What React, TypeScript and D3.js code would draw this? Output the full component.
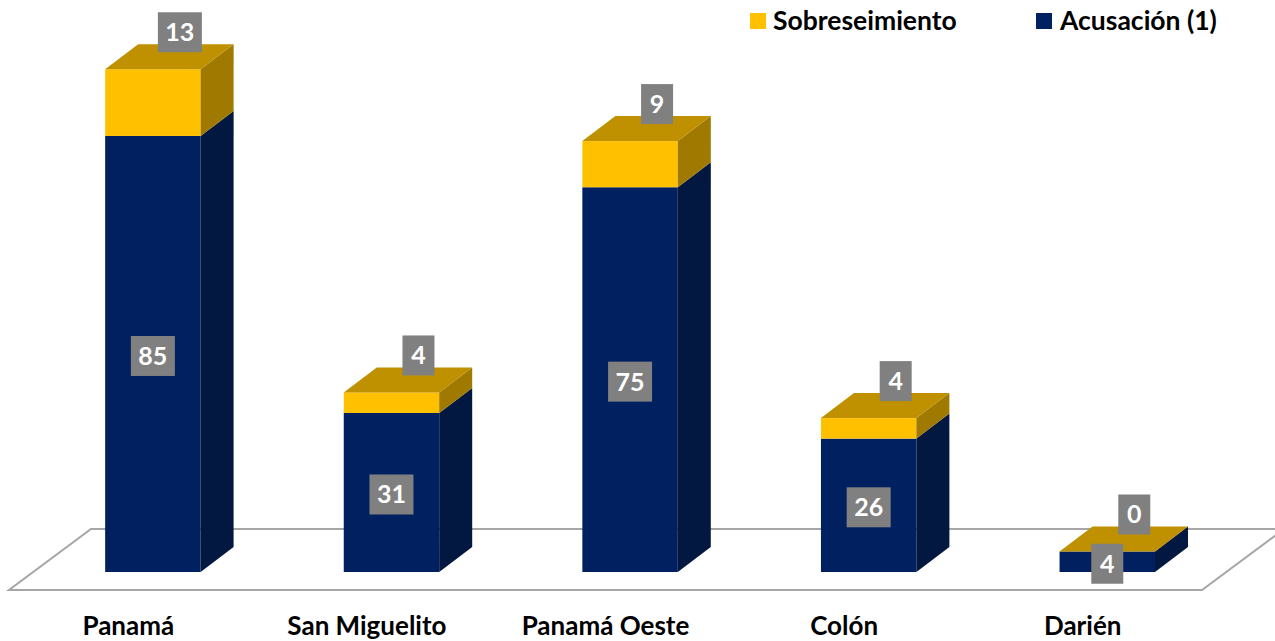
import React from "react";
import * as d3 from "d3";

const categories = ["Panamá", "San Miguelito", "Panamá Oeste", "Colón", "Darién"];
const acusacion = [85, 31, 75, 26, 4];
const sobreseimiento = [13, 4, 9, 4, 0];
const seriesNames = ["Sobreseimiento", "Acusación (1)"];

const W = 1275;
const H = 641;
const DX = 33;
const DY = 25;
const FONT = "Lato, 'Open Sans', sans-serif";

const NAVY = { front: "#002060", side: "#021840", top: "#0a2a6e" };
const GOLD = { front: "#FFC000", side: "#A07A00", top: "#BF9000" };

function Box({ x0, x1, y0, y1, c }: { x0: number; x1: number; y0: number; y1: number; c: any }) {
  return (
    <g>
      <rect x={x0} y={y1} width={x1 - x0} height={Math.max(0, y0 - y1)} fill={c.front} />
      <polygon
        points={`${x1},${y0} ${x1 + DX},${y0 - DY} ${x1 + DX},${y1 - DY} ${x1},${y1}`}
        fill={c.side}
      />
    </g>
  );
}

function Label({ cx, cy, text }: { cx: number; cy: number; text: string }) {
  const w = text.length > 1 ? 44 : 32;
  const h = 40;
  return (
    <g>
      <rect x={cx - w / 2} y={cy - h / 2} width={w} height={h} fill="#808080" />
      <text
        x={cx}
        y={cy + 9}
        textAnchor="middle"
        fontFamily={FONT}
        fontWeight={700}
        fontSize={25}
        fill="#ffffff"
      >
        {text}
      </text>
    </g>
  );
}

export default function App() {
  const x = d3.scaleBand<string>().domain(categories).range([9, 1202]).paddingInner(0).paddingOuter(0);
  const y = d3.scaleLinear().domain([0, 100]).range([572, 59]);
  const bw = x.bandwidth();
  const barW = bw * 0.4;

  const floorFront = 590;
  const floorBack = 529;
  const floorDx = 82;

  return (
    <svg width={W} height={H} style={{ position: "absolute", left: 0, top: 0, background: "#fff" }}>
      <polygon
        points={`9,${floorFront} 1202,${floorFront} ${1202 + floorDx},${floorBack} ${9 + floorDx},${floorBack}`}
        fill="#ffffff"
        stroke="#a6a6a6"
        strokeWidth={2}
      />
      {categories.map((c, i) => {
        const x0 = (x(c) as number) + bw * 0.403;
        const x1 = x0 + barW;
        const yA = y(acusacion[i]);
        const yT = y(acusacion[i] + sobreseimiento[i]);
        return (
          <g key={c}>
            <Box x0={x0} x1={x1} y0={y(0)} y1={yA} c={NAVY} />
            <Box x0={x0} x1={x1} y0={yA} y1={yT} c={GOLD} />
            <polygon
              points={`${x0},${yT} ${x1},${yT} ${x1 + DX},${yT - DY} ${x0 + DX},${yT - DY}`}
              fill={GOLD.top}
            />
          </g>
        );
      })}
      {categories.map((c, i) => {
        const x0 = (x(c) as number) + bw * 0.403;
        const cx = x0 + barW / 2;
        const yA = y(acusacion[i]);
        const yT = y(acusacion[i] + sobreseimiento[i]);
        return (
          <g key={"l" + c}>
            <Label cx={cx} cy={(y(0) + yA) / 2 + 2} text={String(acusacion[i])} />
            <Label cx={cx + 27} cy={yT - DY - 12} text={String(sobreseimiento[i])} />
          </g>
        );
      })}
      {categories.map((c) => (
        <text
          key={"t" + c}
          x={(x(c) as number) + bw / 2}
          y={635}
          textAnchor="middle"
          fontFamily={FONT}
          fontWeight={700}
          fontSize={26}
          fill="#000"
        >
          {c}
        </text>
      ))}
      <g>
        <rect x={750} y={13} width={16} height={16} fill={GOLD.front} />
        <text x={773} y={30} fontFamily={FONT} fontWeight={700} fontSize={26.5} fill="#000">
          {seriesNames[0]}
        </text>
        <rect x={1036} y={13} width={16} height={16} fill={NAVY.front} />
        <text x={1060} y={30} fontFamily={FONT} fontWeight={700} fontSize={26.5} fill="#000">
          {seriesNames[1]}
        </text>
      </g>
    </svg>
  );
}
